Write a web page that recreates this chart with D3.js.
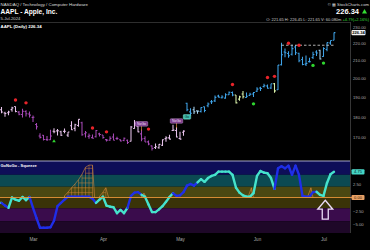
<!DOCTYPE html>
<html><head><meta charset="utf-8">
<script src="https://cdn.jsdelivr.net/npm/d3@7"></script>
<style>html,body{margin:0;padding:0;background:#000;overflow:hidden}svg{display:block;font-family:"Liberation Sans",Arial,sans-serif}</style>
</head><body>
<svg id="c" width="370" height="250"></svg>
<script>
// ---------------- DATA ----------------
const dates = ["2024-02-15","2024-02-16","2024-02-20","2024-02-21","2024-02-22","2024-02-23","2024-02-26","2024-02-27","2024-02-28","2024-02-29",
"2024-03-01","2024-03-04","2024-03-05","2024-03-06","2024-03-07","2024-03-08","2024-03-11","2024-03-12","2024-03-13","2024-03-14","2024-03-15",
"2024-03-18","2024-03-19","2024-03-20","2024-03-21","2024-03-22","2024-03-25","2024-03-26","2024-03-27","2024-03-28",
"2024-04-01","2024-04-02","2024-04-03","2024-04-04","2024-04-05","2024-04-08","2024-04-09","2024-04-10","2024-04-11","2024-04-12",
"2024-04-15","2024-04-16","2024-04-17","2024-04-18","2024-04-19","2024-04-22","2024-04-23","2024-04-24","2024-04-25","2024-04-26","2024-04-29","2024-04-30",
"2024-05-01","2024-05-02","2024-05-03","2024-05-06","2024-05-07","2024-05-08","2024-05-09","2024-05-10","2024-05-13","2024-05-14","2024-05-15","2024-05-16","2024-05-17",
"2024-05-20","2024-05-21","2024-05-22","2024-05-23","2024-05-24","2024-05-28","2024-05-29","2024-05-30","2024-05-31",
"2024-06-03","2024-06-04","2024-06-05","2024-06-06","2024-06-07","2024-06-10","2024-06-11","2024-06-12","2024-06-13","2024-06-14",
"2024-06-17","2024-06-18","2024-06-20","2024-06-21","2024-06-24","2024-06-25","2024-06-26","2024-06-27","2024-06-28",
"2024-07-01","2024-07-02","2024-07-03","2024-07-05"];
const opens = [183.55,183.42,181.79,181.94,183.48,185.01,182.24,181.10,182.51,181.27,
179.55,176.15,170.76,171.06,169.15,169.00,172.94,173.15,172.77,172.91,171.17,
175.57,174.34,175.72,177.05,171.76,170.57,170.00,170.41,171.75,
171.19,169.08,168.79,170.29,169.59,169.03,168.70,168.80,168.34,174.26,
175.36,171.75,169.61,168.03,166.21,165.52,165.35,166.54,169.53,169.88,173.37,173.33,
169.58,172.51,186.65,182.35,183.45,182.85,182.56,184.90,185.44,187.51,187.91,190.47,189.51,
189.33,191.09,192.27,190.98,188.82,191.51,189.61,190.76,191.44,
192.90,194.64,195.40,195.69,194.65,196.90,193.65,207.37,214.74,213.85,
213.37,217.59,213.93,210.39,207.72,209.15,211.50,214.69,215.77,
212.09,216.15,220.00,221.65];
const highs = [184.49,184.85,182.43,182.89,184.96,185.04,182.76,183.92,183.12,182.57,
180.53,176.90,172.04,171.24,170.73,173.70,174.38,174.03,173.19,174.31,172.62,
177.71,176.61,178.67,177.49,173.05,171.94,171.42,173.60,172.23,
171.25,169.34,170.68,171.92,170.39,169.20,170.08,169.09,175.46,178.36,
176.63,173.76,170.65,168.64,166.40,167.26,167.05,169.30,170.61,171.34,176.03,174.99,
172.71,173.42,187.00,184.20,184.90,183.07,184.66,185.09,187.10,188.30,190.65,191.10,190.81,
191.92,192.73,192.82,191.00,190.58,193.00,192.25,192.18,192.57,
194.99,195.32,196.90,196.50,196.94,197.30,207.16,220.20,216.75,215.17,
218.95,218.63,214.24,211.89,212.70,211.38,214.86,215.74,216.07,
217.51,220.38,221.55,226.45];
const lows = [181.35,181.67,180.00,180.66,182.46,182.23,180.65,179.56,180.13,179.53,
177.38,173.79,169.62,168.68,168.49,168.94,172.05,171.01,170.76,172.05,170.29,
173.52,173.03,175.09,170.84,170.06,169.45,169.58,170.11,170.51,
169.48,168.23,168.58,168.82,168.95,168.24,168.35,167.11,168.16,174.21,
172.50,168.27,168.00,166.55,164.08,164.77,164.92,166.21,168.15,169.18,173.10,170.00,
169.11,170.89,182.66,180.42,181.32,181.45,182.11,182.13,184.62,186.29,187.37,189.66,189.18,
189.01,190.92,190.27,186.63,188.04,189.10,189.51,190.63,189.91,
192.52,193.03,194.87,194.17,194.14,192.15,193.63,206.90,211.60,211.30,
212.72,213.00,208.85,207.11,206.59,208.61,210.64,212.35,210.30,
211.92,215.10,219.03,221.65];
const closes = [183.86,182.31,181.56,182.32,184.37,182.52,181.16,182.63,181.42,180.75,
179.66,175.10,170.12,169.12,169.00,170.73,172.75,173.23,171.13,173.00,172.62,
173.72,176.08,178.67,171.37,172.28,170.85,169.71,173.31,171.48,
170.03,168.84,169.65,168.82,169.58,168.45,169.67,167.78,175.04,176.55,
172.69,169.38,168.00,167.04,165.00,165.84,166.90,169.02,169.89,169.30,173.50,170.33,
169.30,173.03,183.38,181.71,182.40,182.74,184.57,183.05,186.28,187.43,189.72,189.84,189.87,
191.04,192.35,190.90,186.88,189.98,189.99,190.29,191.29,192.25,
194.03,194.35,195.87,194.48,196.89,193.12,207.15,213.07,214.24,212.49,
216.67,214.29,209.68,207.49,208.14,209.07,213.25,214.10,210.62,
216.75,220.27,221.55,226.34];
// trend state per bar: P strong NoGo, p weak NoGo, B Go, b weak Go, y neutral
const barState = "pppppp" + "PPPPPPPPPP" + "pppppppp" + "PPPPPPPPPPPPPP" + "ppp" + "PPPP" + "ppppppppp" +
  "BBbbBBBBBBBBBB" + "yyy" + "BBBBBBBB" + "y" + "BBBBBBBBBBBB" + "b" + "BBBB";
const redDotIdx = [5, 8, 27, 31, 43, 67, 77, 79, 83, 86];
const redDotPrice = [188.4, 186.9, 174.5, 172.7, 174.0, 196.5, 200.3, 200.9, 219.9, 218.7];
const greenDotIdx = [73, 90, 93];
const greenDotPrice = [186.4, 207.0, 208.3];
const greenTriIdx = [16];
const greenTriPrice = [168.5];
const tagIdx = [41, 51, 54];
const tagPrice = [176.5, 177.9, 179.9];
const tagText = ["NoGo", "NoGo", "Go"];
const resistIdx = [81, 96];
const resistPrice = 218.7;
const priceTicks = [170, 180, 190, 200, 210, 220, 230];
const monthIdx = [10, 30, 52, 74, 93];
const monthLabels = ["Mar", "Apr", "May", "Jun", "Jul"];

// oscillator
const oscValues = [-1.0,-1.0,-1.5,-1.9,0.0,-0.4,-0.6,0.1,-0.5,0.1,
-1.9,-3.8,-5.6,-5.6,-5.6,-5.5,-4.3,-1.6,-1.0,-0.4,
0.15,0.15,0.15,0.15,0.15,0.15,0.15,-0.2,-1.0,-0.4,
0.15,-1.5,-1.7,-1.8,-2.9,-2.3,-2.9,-1.9,0.3,0.9,
1.0,0.5,0.15,-1.3,-2.7,-2.7,-2.2,-1.6,-0.8,0.1,
0.8,0.3,0.4,1.0,2.2,2.5,2.2,2.8,3.4,2.9,
3.6,4.0,4.2,4.8,4.8,4.8,4.8,4.2,1.8,0.9,
0.4,0.15,0.15,0.8,4.0,4.9,4.6,4.5,3.6,1.6,
5.4,5.8,5.4,5.9,4.2,5.9,4.2,0.3,0.15,0.15,
1.0,1.07,0.5,0.3,2.7,4.3,4.75];
// b = falling (blue), t = rising (turquoise)
const oscState = "tt" + "bb" + "tttttt" + "bbbbbbbbbbbbbbbbbbb" + "ttttttttt" + "bbbb" + "ttttttttt" + "bbbbbbb" + "tttttttttttttttttttttt" + "bbbbbbbbbbbb" + "ttttt";
const squeezeZones = [
  [[19,0.3],[20,1.0],[21,1.8],[22,2.5],[23,3.3],[24,4.3],[25,5.6],[26,6.0],[27,6.0],[27.6,0]],
  [[29,0.2],[30,1.0],[30.8,1.8],[31.6,0]],
  [[41,0.2],[41.7,0.8],[42.3,0]],
  [[71.5,0.2],[72.4,1.8],[73,0]],
  [[88.5,0.2],[89.4,1.8],[90,0]]
];
const oscTicks = [5, 2.5, -2.5, -5];
const bandEdges = [6.8, 4.2, 2.0, 0, -2.0, -4.4, -6.6];
const bandColors = ["#0e0e58", "#0b4a52", "#4a4812", "#3a3308", "#3a0c4c", "#1e0828"];

// ---------------- CHART ----------------
const svg = d3.select("#c");
const W = 370, H = 250, right = 350;
svg.append("rect").attr("width", W).attr("height", H).attr("fill", "#000");

const x = d3.scaleLinear().domain([0, 96]).range([-2, 334]);
const y = d3.scaleLog().domain([159.5, 233]).range([161, 22]);
const yo = d3.scaleLinear().domain([-6.57, 6.76]).range([233, 161]);

const defs = svg.append("defs");
defs.append("clipPath").attr("id", "cp").append("rect").attr("x", 0).attr("y", 22).attr("width", right).attr("height", 139);
defs.append("clipPath").attr("id", "co").append("rect").attr("x", 0).attr("y", 161).attr("width", right).attr("height", 72);

// header
const hdr = svg.append("g").attr("fill", "#fff");
hdr.append("text").attr("x", 0.5).attr("y", 6).attr("font-size", 4.4).attr("fill", "#ddd").text("NASDAQ / Technology / Computer Hardware");
hdr.append("text").attr("x", 0.5).attr("y", 14).attr("font-size", 6.6).attr("font-weight", "bold").text("AAPL - Apple, Inc.");
hdr.append("text").attr("x", 0.5).attr("y", 19.8).attr("font-size", 4.2).attr("fill", "#ccc").text("5-Jul-2024");
hdr.append("text").attr("x", 369).attr("y", 6).attr("text-anchor", "end").attr("font-size", 4.2).attr("fill", "#ddd").text("© ▦ StockCharts.com");
hdr.append("text").attr("x", 359).attr("y", 14).attr("text-anchor", "end").attr("font-size", 7.5).attr("font-weight", "bold").text(closes[closes.length-1].toFixed(2));
hdr.append("path").attr("d", "M362,13.5L364.5,9L367,13.5Z").attr("fill", "#33dd33");
const last = closes.length - 1;
const ohlc = hdr.append("text").attr("x", 369).attr("y", 20.5).attr("text-anchor", "end").attr("font-size", 4.0).attr("fill", "#ccc");
ohlc.append("tspan").text(`O: ${opens[last].toFixed(2)}   H: ${highs[last].toFixed(2)}   L: ${lows[last].toFixed(2)}   V: 60.080m  `);
ohlc.append("tspan").attr("fill", "#33dd33").text(`+${(closes[last]-closes[last-1]).toFixed(2)}(+${((closes[last]/closes[last-1]-1)*100).toFixed(2)}%)`);

svg.append("line").attr("x1", 0).attr("x2", right).attr("y1", 22.5).attr("y2", 22.5).attr("stroke", "#3a3a3a").attr("stroke-width", 0.8);
svg.append("line").attr("x1", right + 0.5).attr("x2", right + 0.5).attr("y1", 22).attr("y2", 233).attr("stroke", "#444").attr("stroke-width", 0.8);
svg.append("text").attr("x", 0.5).attr("y", 28).attr("font-size", 4.4).attr("font-weight", "bold").attr("fill", "#fff").text(`AAPL (Daily) ${closes[last].toFixed(2)}`);

// price axis
const pa = svg.append("g").attr("transform", `translate(${right},0)`)
  .call(d3.axisRight(y).tickValues(priceTicks).tickSize(0).tickPadding(3).tickFormat(d3.format(".2f")));
pa.select(".domain").remove();
pa.selectAll("text").attr("font-size", 4.2).attr("fill", "#aaa").attr("font-family", "Liberation Sans, Arial, sans-serif");

// price panel
const pg = svg.append("g").attr("clip-path", "url(#cp)");
const barColor = { P: "#a448b4", p: "#e6c2ea", B: "#3fa2e6", b: "#a9d6f2", y: "#d8f0a8" };
pg.selectAll("path.bar").data(d3.range(closes.length)).join("path").attr("class", "bar")
  .attr("d", i => `M${x(i)},${y(highs[i])}V${y(lows[i])}M${x(i)-1.4},${y(opens[i])}H${x(i)}M${x(i)},${y(closes[i])}H${x(i)+1.4}`)
  .attr("stroke", i => barColor[barState[i]]).attr("stroke-width", 1.05).attr("fill", "none");

pg.append("line").attr("x1", x(resistIdx[0])).attr("x2", x(resistIdx[1])).attr("y1", y(resistPrice)).attr("y2", y(resistPrice))
  .attr("stroke", "#ddd").attr("stroke-width", 0.8).attr("stroke-dasharray", "2.5,2");

pg.selectAll("circle.red").data(redDotIdx).join("circle").attr("class", "red")
  .attr("cx", d => x(d)).attr("cy", (d, k) => y(redDotPrice[k])).attr("r", 1.7).attr("fill", "#e8242a");
pg.selectAll("circle.green").data(greenDotIdx).join("circle").attr("class", "green")
  .attr("cx", d => x(d)).attr("cy", (d, k) => y(greenDotPrice[k])).attr("r", 1.7).attr("fill", "#2fd52f");
pg.selectAll("path.tri").data(greenTriIdx).join("path").attr("class", "tri")
  .attr("d", (d, k) => { const cx = x(d), cy = y(greenTriPrice[k]); return `M${cx-1.8},${cy+1.5}L${cx},${cy-1.7}L${cx+1.8},${cy+1.5}Z`; })
  .attr("fill", "#2fd52f");

// tags
tagIdx.forEach((d, k) => {
  const cx = x(d), cy = y(tagPrice[k]);
  const isGo = tagText[k] === "Go";
  const w = isGo ? 7.5 : 12.5;
  const t = pg.append("g");
  if (!isGo) {
    t.append("line").attr("x1", cx).attr("x2", cx).attr("y1", cy + 2).attr("y2", cy + 7).attr("stroke", "#d8893a").attr("stroke-width", 0.7);
  }
  t.append("rect").attr("x", cx - w / 2).attr("y", cy - 2.3).attr("width", w).attr("height", 4.6).attr("rx", 0.8)
    .attr("fill", isGo ? "#3fbfb0" : "#7a3a8c").attr("stroke", isGo ? "#8fe8dc" : "#d7a6e0").attr("stroke-width", 0.4);
  t.append("text").attr("x", cx).attr("y", cy + 1.3).attr("text-anchor", "middle").attr("font-size", 3.4)
    .attr("fill", isGo ? "#0a2a2a" : "#f4e0f8").text(tagText[k]);
});

// last price box
svg.append("rect").attr("x", 351.5).attr("y", y(closes[last]) - 2.6).attr("width", 14).attr("height", 5.2).attr("rx", 1).attr("fill", "#f2f2f2");
svg.append("text").attr("x", 358.5).attr("y", y(closes[last]) + 1.5).attr("text-anchor", "middle").attr("font-size", 4.1).attr("font-weight", "bold").attr("fill", "#000").text(closes[last].toFixed(2));

// oscillator panel
const og = svg.append("g").attr("clip-path", "url(#co)");
og.selectAll("rect.band").data(d3.range(bandColors.length)).join("rect").attr("class", "band")
  .attr("x", 0).attr("width", right)
  .attr("y", i => yo(bandEdges[i])).attr("height", i => yo(bandEdges[i + 1]) - yo(bandEdges[i]))
  .attr("fill", i => bandColors[i]);
svg.append("line").attr("x1", 0).attr("x2", right).attr("y1", 161).attr("y2", 161).attr("stroke", "#b8b8d8").attr("stroke-width", 0.9);

// squeeze hatches
const sqc = "#d88a3a";
squeezeZones.forEach(z => {
  const pts = [[z[0][0], 0], ...z];
  og.append("path").attr("d", d3.line().x(p => x(p[0])).y(p => yo(p[1]))(pts)).attr("fill", "none").attr("stroke", sqc).attr("stroke-width", 0.6);
  z.forEach(p => {
    og.append("line").attr("x1", x(p[0])).attr("x2", x(p[0])).attr("y1", yo(0)).attr("y2", yo(p[1])).attr("stroke", sqc).attr("stroke-width", 0.45);
  });
  const maxV = d3.max(z, p => p[1]);
  for (let lv = 0.9; lv < maxV; lv += 0.9) {
    let xs = null;
    for (let k = 0; k < z.length; k++) { if (z[k][1] >= lv) { xs = z[k][0]; break; } }
    let xe = null;
    for (let k = z.length - 1; k >= 0; k--) { if (z[k][1] >= lv) { xe = z[k][0]; break; } }
    if (xs !== null) og.append("line").attr("x1", x(xs)).attr("x2", x(xe)).attr("y1", yo(lv)).attr("y2", yo(lv)).attr("stroke", sqc).attr("stroke-width", 0.45);
  }
});

// zero line
svg.append("line").attr("x1", 0).attr("x2", 352).attr("y1", yo(0)).attr("y2", yo(0)).attr("stroke", "#e8963a").attr("stroke-width", 0.9);

// oscillator line
const oscColor = { b: "#1f2ee8", t: "#45e3cc" };
og.selectAll("line.osc").data(d3.range(1, oscValues.length)).join("line").attr("class", "osc")
  .attr("x1", i => x(i - 1)).attr("y1", i => yo(oscValues[i - 1]))
  .attr("x2", i => x(i)).attr("y2", i => yo(oscValues[i]))
  .attr("stroke", i => oscColor[oscState[i]]).attr("stroke-width", 2.4).attr("stroke-linecap", "round");

svg.append("text").attr("x", 0.5).attr("y", 166.5).attr("font-size", 4.0).attr("font-weight", "bold").attr("fill", "#fff").text("GoNoGo - Squeeze");

// oscillator axis
const oa = svg.append("g").attr("transform", `translate(${right},0)`)
  .call(d3.axisRight(yo).tickValues(oscTicks).tickSize(0).tickPadding(3).tickFormat(d3.format(".2f")));
oa.select(".domain").remove();
oa.selectAll("text").attr("font-size", 4.2).attr("fill", "#aaa").attr("font-family", "Liberation Sans, Arial, sans-serif");

const lastOsc = oscValues[oscValues.length - 1];
svg.append("rect").attr("x", 351.5).attr("y", yo(lastOsc) - 2.6).attr("width", 13).attr("height", 5.2).attr("rx", 1).attr("fill", "#45d6c6");
svg.append("text").attr("x", 358).attr("y", yo(lastOsc) + 1.5).attr("text-anchor", "middle").attr("font-size", 4).attr("fill", "#062222").text(lastOsc.toFixed(2));
svg.append("rect").attr("x", 351.5).attr("y", yo(0) - 2.6).attr("width", 13).attr("height", 5.2).attr("rx", 1).attr("fill", "#e8a066");
svg.append("text").attr("x", 358).attr("y", yo(0) + 1.5).attr("text-anchor", "middle").attr("font-size", 4).attr("fill", "#3a1a00").text("0.00");

// annotation arrow
{
  const ax = x(93.5), at = yo(-0.5);
  const hb = at + 9, sb = at + 19;
  svg.append("path")
    .attr("d", `M${ax},${at}L${ax+7.5},${hb}L${ax+3},${hb}L${ax+3},${sb}L${ax-3},${sb}L${ax-3},${hb}L${ax-7.5},${hb}Z`)
    .attr("fill", "none").attr("stroke", "#ecdcf8").attr("stroke-width", 1.3).attr("stroke-linejoin", "miter");
}

// x axis
const xa = svg.append("g").attr("transform", "translate(0,235)")
  .call(d3.axisBottom(x).tickValues(monthIdx).tickSize(0).tickPadding(3).tickFormat((d, k) => monthLabels[k]));
xa.select(".domain").remove();
xa.selectAll("text").attr("font-size", 4.6).attr("fill", "#aaa").attr("font-family", "Liberation Sans, Arial, sans-serif");
</script>
</body></html>
